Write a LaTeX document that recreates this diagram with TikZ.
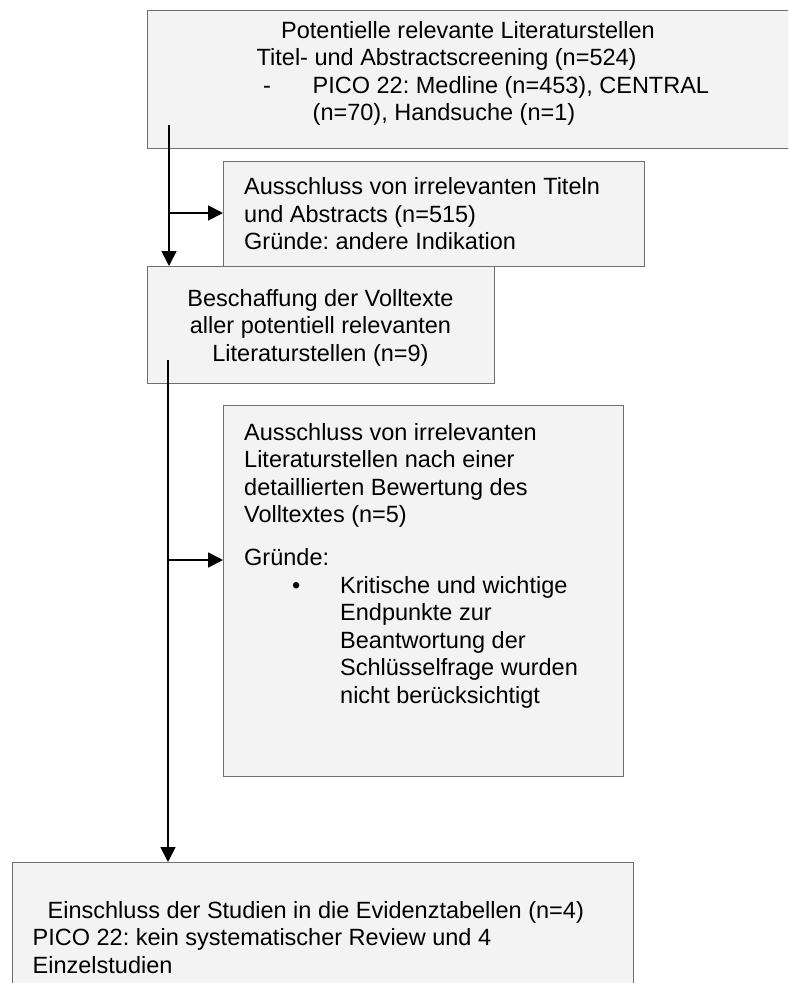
\documentclass[tikz,border=0pt]{standalone}
\usepackage{fontspec}
\setmainfont{Liberation Sans}
\usetikzlibrary{arrows.meta}
\frenchspacing
\definecolor{boxfill}{HTML}{F3F3F3}
\definecolor{boxline}{HTML}{6F6F6F}
\tikzset{
  box/.style={draw=boxline, fill=boxfill, line width=1.3pt, inner sep=0pt, anchor=north west},
  txt/.style={inner sep=0pt, align=left, anchor=base west, font=\fontsize{23.5}{27.5}\selectfont},
  link/.style={line width=1.8pt, -{Triangle[length=15pt,width=15pt]}}
}
\begin{document}
\begin{tikzpicture}[x=1pt, y=-1pt]
\clip (0,0) rectangle (788,983);
\node[box, minimum width=660, minimum height=138] (screen) at (147,10) {};
\node[box, minimum width=421, minimum height=105] (exclA) at (223,161) {};
\node[box, minimum width=347, minimum height=117] (full) at (147,266) {};
\node[box, minimum width=400, minimum height=371] (exclB) at (223,405) {};
\node[box, minimum width=621, minimum height=140] (incl) at (12,862) {};
\node[txt] (screen-t) at (256.5,120.5) {\hspace*{24.5pt}Potentielle relevante Literaturstellen\\
  Titel- und Abstractscreening (n=524)\\
  \hspace*{6.5pt}\makebox[49.5pt][l]{-}PICO 22: Medline (n=453), CENTRAL\\
  \hspace*{56pt}(n=70), Handsuche (n=1)};
\node[txt] (exclA-t) at (244,249.5) {Ausschluss von irrelevanten Titeln\\
  und Abstracts (n=515)\\
  Gründe: andere Indikation};
\node[txt, align=center, anchor=base] (full-t) at (320.5,361) {Beschaffung der Volltexte\\
  aller potentiell relevanten\\
  Literaturstellen (n=9)};
\node[txt] (exclB-t) at (244,703) {Ausschluss von irrelevanten\\
  Literaturstellen nach einer\\
  detaillierten Bewertung des\\
  Volltextes (n=5)\\[15.5pt]
  Gründe:\\
  \hspace*{48pt}\makebox[48pt][l]{\textbullet}Kritische und wichtige\\
  \hspace*{96pt}Endpunkte zur\\
  \hspace*{96pt}Beantwortung der\\
  \hspace*{96pt}Schlüsselfrage wurden\\
  \hspace*{96pt}nicht berücksichtigt};
\node[txt] (incl-t) at (32.5,973) {\hspace*{15pt}Einschluss der Studien in die Evidenztabellen (n=4)\\
  PICO 22: kein systematischer Review und 4\\
  Einzelstudien};
\coordinate (s1) at (169,125);
\coordinate (b1) at (169,213);
\coordinate (s2) at (168,360);
\coordinate (b2) at (168,560);
\draw[link] (s1) -- (s1 |- full.north);
\draw[link] (b1) -- (b1 -| exclA.west);
\draw[link] (s2) -- (s2 |- incl.north);
\draw[link] (b2) -- (b2 -| exclB.west);
\end{tikzpicture}
\end{document}
